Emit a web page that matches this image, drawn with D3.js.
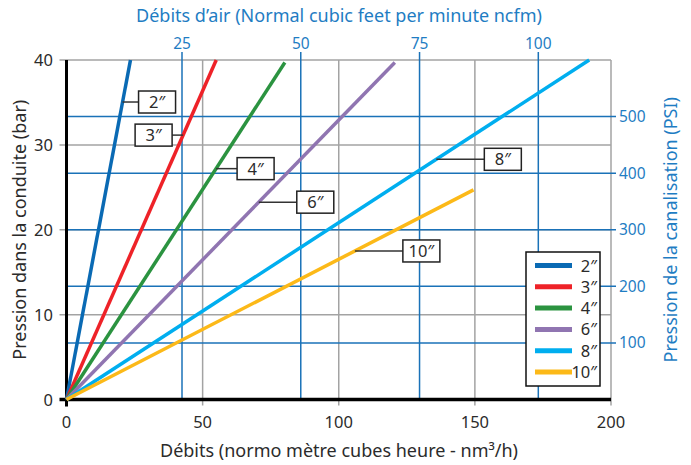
<!DOCTYPE html>
<html lang="fr">
<head>
<meta charset="UTF-8" />
<title>Pression / débits</title>
<script src="https://d3js.org/d3.v7.min.js"></script>
<style>
  body { margin: 0; background: #fff; }
  text { font-family: "Noto Sans", "Open Sans", sans-serif; }
</style>
</head>
<body>
<script>
  // diamètres de conduite et fin de chaque droite (débit nm3/h, pression bar)
  const sizes = ["2″", "3″", "4″", "6″", "8″", "10″"];
  const colors = ["#0a6ab4", "#ee2228", "#2b9340", "#9075b1", "#00aeef", "#fcb918"];
  const endFlow = [23.5, 55, 80.2, 120.6, 192, 149.5];
  const endBar = [40, 40, 39.7, 39.7, 40, 24.7];
  // pression (bar) où l'étiquette se raccroche à la droite
  const labelBar = [35.05, 31.15, 27.2, 23.25, 28.3, 17.5];

  const xTicks = [0, 50, 100, 150, 200];
  const yTicks = [0, 10, 20, 30, 40];
  const ncfmTicks = [25, 50, 75, 100];
  const psiTicks = [100, 200, 300, 400, 500];

  const W = 691, H = 465;
  const blue = "#1f7dc3", gridBlue = "#1a72b8", gray = "#a3a3a3", ink = "#2b2b2b";

  const svg = d3.select("body").append("svg")
    .attr("width", W).attr("height", H);

  const x = d3.scaleLinear().domain([0, 200]).range([66.5, 611]);
  const y = d3.scaleLinear().domain([0, 40]).range([399.5, 60]);
  // axe haut (ncfm) et axe droit (PSI) tels que tracés sur l'original
  const xTop = d3.scaleLinear().domain([0, 100]).range([x(-1.2), x(173.3)]);
  const yRight = d3.scaleLinear().domain([0, 600]).range([y(0), y(40)]);

  // grille grise
  svg.append("g").selectAll("line").data(xTicks.slice(1)).join("line")
    .attr("x1", d => x(d)).attr("x2", d => x(d))
    .attr("y1", y(40)).attr("y2", y(0) + 6)
    .attr("stroke", gray).attr("stroke-width", 1.5);
  svg.append("g").selectAll("line").data(yTicks.slice(1)).join("line")
    .attr("x1", x(0) - 7).attr("x2", x(200))
    .attr("y1", d => y(d)).attr("y2", d => y(d))
    .attr("stroke", gray).attr("stroke-width", 1.5);

  // grille bleue
  svg.append("g").selectAll("line").data(ncfmTicks).join("line")
    .attr("x1", d => xTop(d)).attr("x2", d => xTop(d))
    .attr("y1", y(40) - 8).attr("y2", y(0))
    .attr("stroke", gridBlue).attr("stroke-width", 1.5);
  svg.append("g").selectAll("line").data(psiTicks).join("line")
    .attr("x1", x(0)).attr("x2", x(200) + 5)
    .attr("y1", d => yRight(d)).attr("y2", d => yRight(d))
    .attr("stroke", gridBlue).attr("stroke-width", 1.5);

  // axes noirs
  svg.append("line").attr("x1", x(0)).attr("x2", x(0))
    .attr("y1", y(40)).attr("y2", y(0) + 7)
    .attr("stroke", "#000").attr("stroke-width", 3);
  svg.append("line").attr("x1", x(0) - 7).attr("x2", x(200))
    .attr("y1", y(0)).attr("y2", y(0))
    .attr("stroke", "#000").attr("stroke-width", 3.5);

  // libellés des graduations
  svg.append("g").selectAll("text").data(xTicks).join("text")
    .attr("x", d => x(d)).attr("y", 428)
    .attr("text-anchor", "middle").attr("font-size", 16.5).attr("fill", ink)
    .text(d => d);
  svg.append("g").selectAll("text").data(yTicks).join("text")
    .attr("x", 53).attr("y", d => y(d) + 6)
    .attr("text-anchor", "end").attr("font-size", 16.5).attr("fill", ink)
    .text(d => d);
  svg.append("g").selectAll("text").data(ncfmTicks).join("text")
    .attr("x", d => xTop(d)).attr("y", 49)
    .attr("text-anchor", "middle").attr("font-size", 15.5).attr("fill", blue)
    .text(d => d);
  svg.append("g").selectAll("text").data(psiTicks).join("text")
    .attr("x", 619).attr("y", d => yRight(d) + 5.5)
    .attr("font-size", 15.5).attr("fill", blue)
    .text(d => d);

  // titres
  svg.append("text").attr("x", 339).attr("y", 22)
    .attr("text-anchor", "middle").attr("font-size", 18).attr("fill", blue)
    .text("Débits d’air (Normal cubic feet per minute ncfm)");
  svg.append("text").attr("x", 339).attr("y", 457)
    .attr("text-anchor", "middle").attr("font-size", 18).attr("fill", ink)
    .text("Débits (normo mètre cubes heure - nm³/h)");
  svg.append("text").attr("transform", `translate(26,${(y(0) + y(40)) / 2}) rotate(-90)`)
    .attr("text-anchor", "middle").attr("font-size", 18).attr("fill", ink)
    .text("Pression dans la conduite (bar)");
  svg.append("text").attr("transform", `translate(677,${(y(0) + y(40)) / 2}) rotate(-90)`)
    .attr("text-anchor", "middle").attr("font-size", 18).attr("fill", blue)
    .text("Pression de la canalisation (PSI)");

  // droites
  const series = sizes.map((s, i) => ({
    name: s, color: colors[i],
    pts: [[0, 0], [endFlow[i], endBar[i]]]
  }));
  const line = d3.line().x(d => x(d[0])).y(d => y(d[1]));
  svg.append("g").selectAll("path").data(series).join("path")
    .attr("d", d => line(d.pts))
    .attr("fill", "none").attr("stroke", d => d.color).attr("stroke-width", 3.5);

  // étiquettes : écart horizontal entre droite et boîte (négatif = à gauche)
  const gaps = [16, -11, 21, 38, 48, 48];
  const boxW = 37, boxH = 22;
  const ann = svg.append("g").selectAll("g").data(series).join("g")
    .attr("transform", (d, i) => {
      const p = labelBar[i];
      return `translate(${x(p * endFlow[i] / endBar[i])},${y(p)})`;
    });
  ann.append("line")
    .attr("x1", 0).attr("x2", (d, i) => gaps[i]).attr("y1", 0).attr("y2", 0)
    .attr("stroke", "#333").attr("stroke-width", 1.5);
  ann.append("rect")
    .attr("x", (d, i) => gaps[i] > 0 ? gaps[i] : gaps[i] - boxW)
    .attr("y", -boxH / 2).attr("width", boxW).attr("height", boxH)
    .attr("fill", "#fff").attr("stroke", "#222").attr("stroke-width", 1.5);
  ann.append("text")
    .attr("x", (d, i) => gaps[i] > 0 ? gaps[i] + boxW / 2 : gaps[i] - boxW / 2)
    .attr("y", 6).attr("text-anchor", "middle").attr("font-size", 16.5).attr("fill", ink)
    .text(d => d.name);

  // légende
  const leg = svg.append("g").attr("transform", "translate(526,252)");
  leg.append("rect").attr("width", 74).attr("height", 134)
    .attr("fill", "#fff").attr("stroke", "#111").attr("stroke-width", 1.5);
  const item = leg.selectAll("g").data(series).join("g")
    .attr("transform", (d, i) => `translate(0,${13.5 + i * 21.3})`);
  item.append("line").attr("x1", 9).attr("x2", 46)
    .attr("stroke", d => d.color).attr("stroke-width", 5);
  item.append("text").attr("x", 71).attr("y", 6)
    .attr("text-anchor", "end").attr("font-size", 16.5).attr("fill", ink)
    .text(d => d.name);
</script>
</body>
</html>
